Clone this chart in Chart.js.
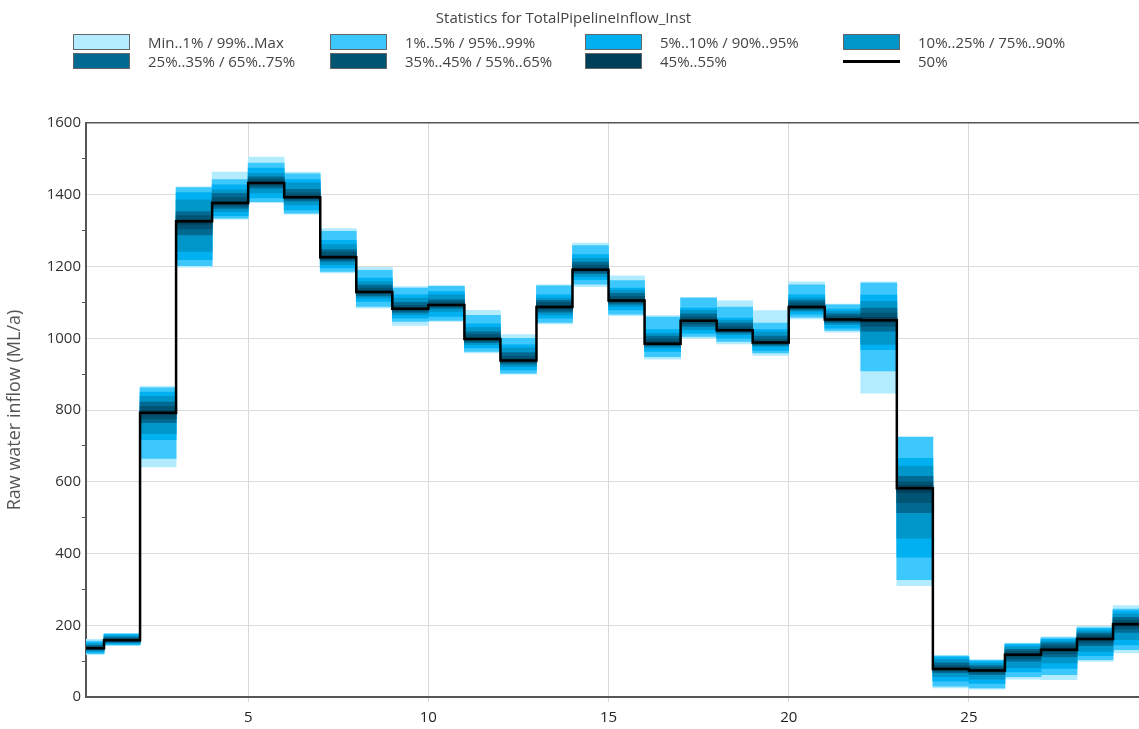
<!DOCTYPE html>
<html>
<head>
<meta charset="utf-8">
<script src="https://cdn.jsdelivr.net/npm/chart.js@4.4.1/dist/chart.umd.min.js"></script>
<style>
  body { margin: 0; background: #fff; font-family: "Open Sans", sans-serif; }
  #wrap { position: relative; width: 1139px; height: 729px; }
  #legend { position: absolute; left: 0; top: 0; width: 1139px; height: 80px; color: #444; font-size: 15px; }
  #legend .title { position: absolute; top: 7px; left: 0; width: 1127px; text-align: center; font-size: 15px; }
  #legend .item { position: absolute; height: 16px; line-height: 16px; white-space: nowrap; }
  #legend .box { position: absolute; left: 0; top: 0; width: 55px; height: 14px; border: 1px solid #666; }
  #legend .ln { position: absolute; left: 0; top: 7px; width: 57px; height: 3px; background: #000; }
  #legend .txt { position: absolute; left: 75px; top: 0px; }
  canvas { position: absolute; left: 0; top: 0; }
</style>
</head>
<body>
<div id="wrap">
  <canvas id="chart" width="1139" height="729"></canvas>
  <div id="legend"><div class="title">Statistics for TotalPipelineInflow_Inst</div></div>
</div>
<script>
// time steps (each value holds from step k to k+1)
const periods = [0,1,2,3,4,5,6,7,8,9,10,11,12,13,14,15,16,17,18,19,20,21,22,23,24,25,26,27,28,29];
const xTicks = [5,10,15,20,25];

// percentiles of raw water inflow (ML/a)
const pMin = [118,143,641,1198,1332,1378,1346,1182,1084,1036,1047,959,900,1040,1144,1063,942,1000,984,952,1054,1017,847,310,25,22,50,48,99,123];
const p1   = [121,145,665,1202,1335,1381,1349,1186,1089,1047,1050,963,903,1044,1151,1067,949,1005,991,959,1059,1022,909,327,30,25,57,62,104,132];
const p5   = [124,147,717,1219,1342,1391,1358,1196,1103,1056,1061,973,912,1056,1163,1079,963,1014,1000,966,1067,1028,968,390,44,38,70,80,115,145];
const p10  = [127,150,734,1242,1353,1405,1372,1205,1112,1065,1075,982,921,1065,1172,1089,973,1024,1010,977,1075,1038,983,443,57,50,82,95,127,160];
const p25  = [131,153,765,1288,1362,1418,1383,1214,1118,1072,1083,988,928,1073,1180,1095,978,1033,1015,981,1079,1043,1020,514,68,62,100,112,143,180];
const p35  = [133,155,775,1305,1368,1424,1388,1219,1123,1076,1088,992,932,1078,1184,1099,981,1040,1018,983,1082,1046,1033,542,72,67,107,120,150,190];
const p45  = [135,157,786,1318,1374,1430,1391,1223,1127,1080,1091,996,936,1084,1189,1103,984,1046,1021,986,1085,1050,1045,570,76,72,114,128,158,198];
const p50  = [136,158,792,1326,1377,1433,1393,1226,1129,1082,1093,998,938,1087,1191,1105,985,1049,1022,988,1087,1052,1050,582,78,74,118,132,162,203];
const p55  = [138,160,798,1330,1382,1437,1397,1231,1133,1086,1096,1002,942,1092,1196,1109,990,1053,1026,991,1091,1056,1058,590,82,77,122,137,167,208];
const p65  = [141,163,810,1342,1392,1444,1405,1240,1140,1092,1102,1010,950,1100,1204,1117,998,1060,1034,998,1098,1062,1070,600,88,82,128,143,173,215];
const p75  = [144,166,822,1353,1404,1450,1415,1247,1148,1100,1108,1018,960,1106,1212,1125,1006,1068,1042,1006,1105,1068,1084,615,95,87,133,150,178,222];
const p90  = [148,170,838,1386,1414,1460,1433,1261,1158,1112,1121,1030,973,1112,1223,1134,1014,1078,1050,1018,1112,1075,1103,644,104,93,140,156,184,232];
const p95  = [152,174,850,1406,1428,1474,1442,1273,1168,1121,1130,1040,982,1121,1233,1140,1024,1084,1056,1024,1121,1081,1120,665,111,99,146,161,190,240];
const p99  = [156,176,862,1420,1442,1488,1458,1298,1189,1140,1145,1064,1000,1146,1258,1161,1059,1112,1087,1042,1149,1093,1154,724,114,102,148,165,193,245];
const pMax = [161,177,866,1422,1463,1505,1463,1306,1198,1144,1147,1078,1010,1149,1265,1174,1063,1114,1104,1077,1157,1095,1157,726,116,104,150,168,197,255];

const bands = [
  { label: 'Min..1% / 99%..Max',   lo: pMin, hi: pMax, color: '#b3ebff' },
  { label: '1%..5% / 95%..99%',    lo: p1,   hi: p99,  color: '#3dc8fd' },
  { label: '5%..10% / 90%..95%',   lo: p5,   hi: p95,  color: '#00b0f0' },
  { label: '10%..25% / 75%..90%',  lo: p10,  hi: p90,  color: '#0096ca' },
  { label: '25%..35% / 65%..75%',  lo: p25,  hi: p75,  color: '#006a92' },
  { label: '35%..45% / 55%..65%',  lo: p35,  hi: p65,  color: '#005473' },
  { label: '45%..55%',             lo: p45,  hi: p55,  color: '#003f5a' }
];

// legend (4 columns x 2 rows)
const legCols = [73, 330, 585, 843], legRows = [34, 53];
const leg = document.getElementById('legend');
bands.concat([{ label: '50%', line: true }]).forEach((b, i) => {
  const d = document.createElement('div');
  d.className = 'item';
  d.style.left = legCols[i % 4] + 'px';
  d.style.top = legRows[Math.floor(i / 4)] + 'px';
  d.innerHTML = (b.line ? '<div class="ln"></div>' : '<div class="box" style="background:' + b.color + '"></div>') +
                '<div class="txt">' + b.label + '</div>';
  leg.appendChild(d);
});

const datasets = bands.map((b, i) => ({
  type: 'bar', label: b.label, stack: 's', order: bands.length - i,
  data: periods.map((p, j) => ({ x: p + 0.5, y: [b.lo[j], b.hi[j]] })),
  backgroundColor: b.color, borderWidth: 0, barPercentage: 1, categoryPercentage: 1
}));
datasets.push({
  type: 'line', label: '50%', order: 0,
  data: periods.map((p, j) => ({ x: p, y: p50[j] })).concat([{ x: periods.length, y: p50[p50.length - 1] }]),
  borderColor: '#000', borderWidth: 2.5, pointRadius: 0, stepped: true, fill: false
});

new Chart(document.getElementById('chart'), {
  data: { datasets },
  options: {
    responsive: false, animation: false,
    layout: { padding: { top: 123, right: 0, left: 0, bottom: 0 } },
    plugins: { legend: { display: false }, tooltip: { enabled: false } },
    scales: {
      x: {
        type: 'linear', min: 0.5, max: 29.72, stacked: true, offset: false,
        afterBuildTicks: s => { s.ticks = xTicks.map(v => ({ value: v })); },
        afterFit: s => { s.height = 32; },
        grid: { color: '#d9d9d9', tickColor: '#d9d9d9', tickLength: 5, offset: false },
        border: { color: '#555', width: 2 },
        ticks: { font: { family: 'Open Sans', size: 15 }, color: '#222', padding: 7, maxRotation: 0 }
      },
      y: {
        min: 0, max: 1600, stacked: false,
        afterFit: s => { s.width = 86; },
        grid: {
          color: c => c.tick.value === 1600 ? '#555' : (c.tick.value % 200 === 0 ? '#dcdcdc' : 'rgba(0,0,0,0)'),
          lineWidth: c => c.tick.value === 1600 ? 1.5 : 1,
          tickColor: c => c.tick.value % 200 === 0 ? 'rgba(0,0,0,0)' : '#555',
          tickLength: 4
        },
        border: { color: '#555', width: 2 },
        ticks: {
          stepSize: 100, autoSkip: false, padding: 1,
          callback: v => v % 200 === 0 ? v : '',
          font: { family: 'Open Sans', size: 15 }, color: '#333'
        },
        title: { display: true, text: 'Raw water inflow (ML/a)', color: '#555',
                 font: { family: 'Open Sans', size: 18 }, padding: { top: 4, bottom: 0 } }
      }
    }
  }
});
</script>
</body>
</html>
